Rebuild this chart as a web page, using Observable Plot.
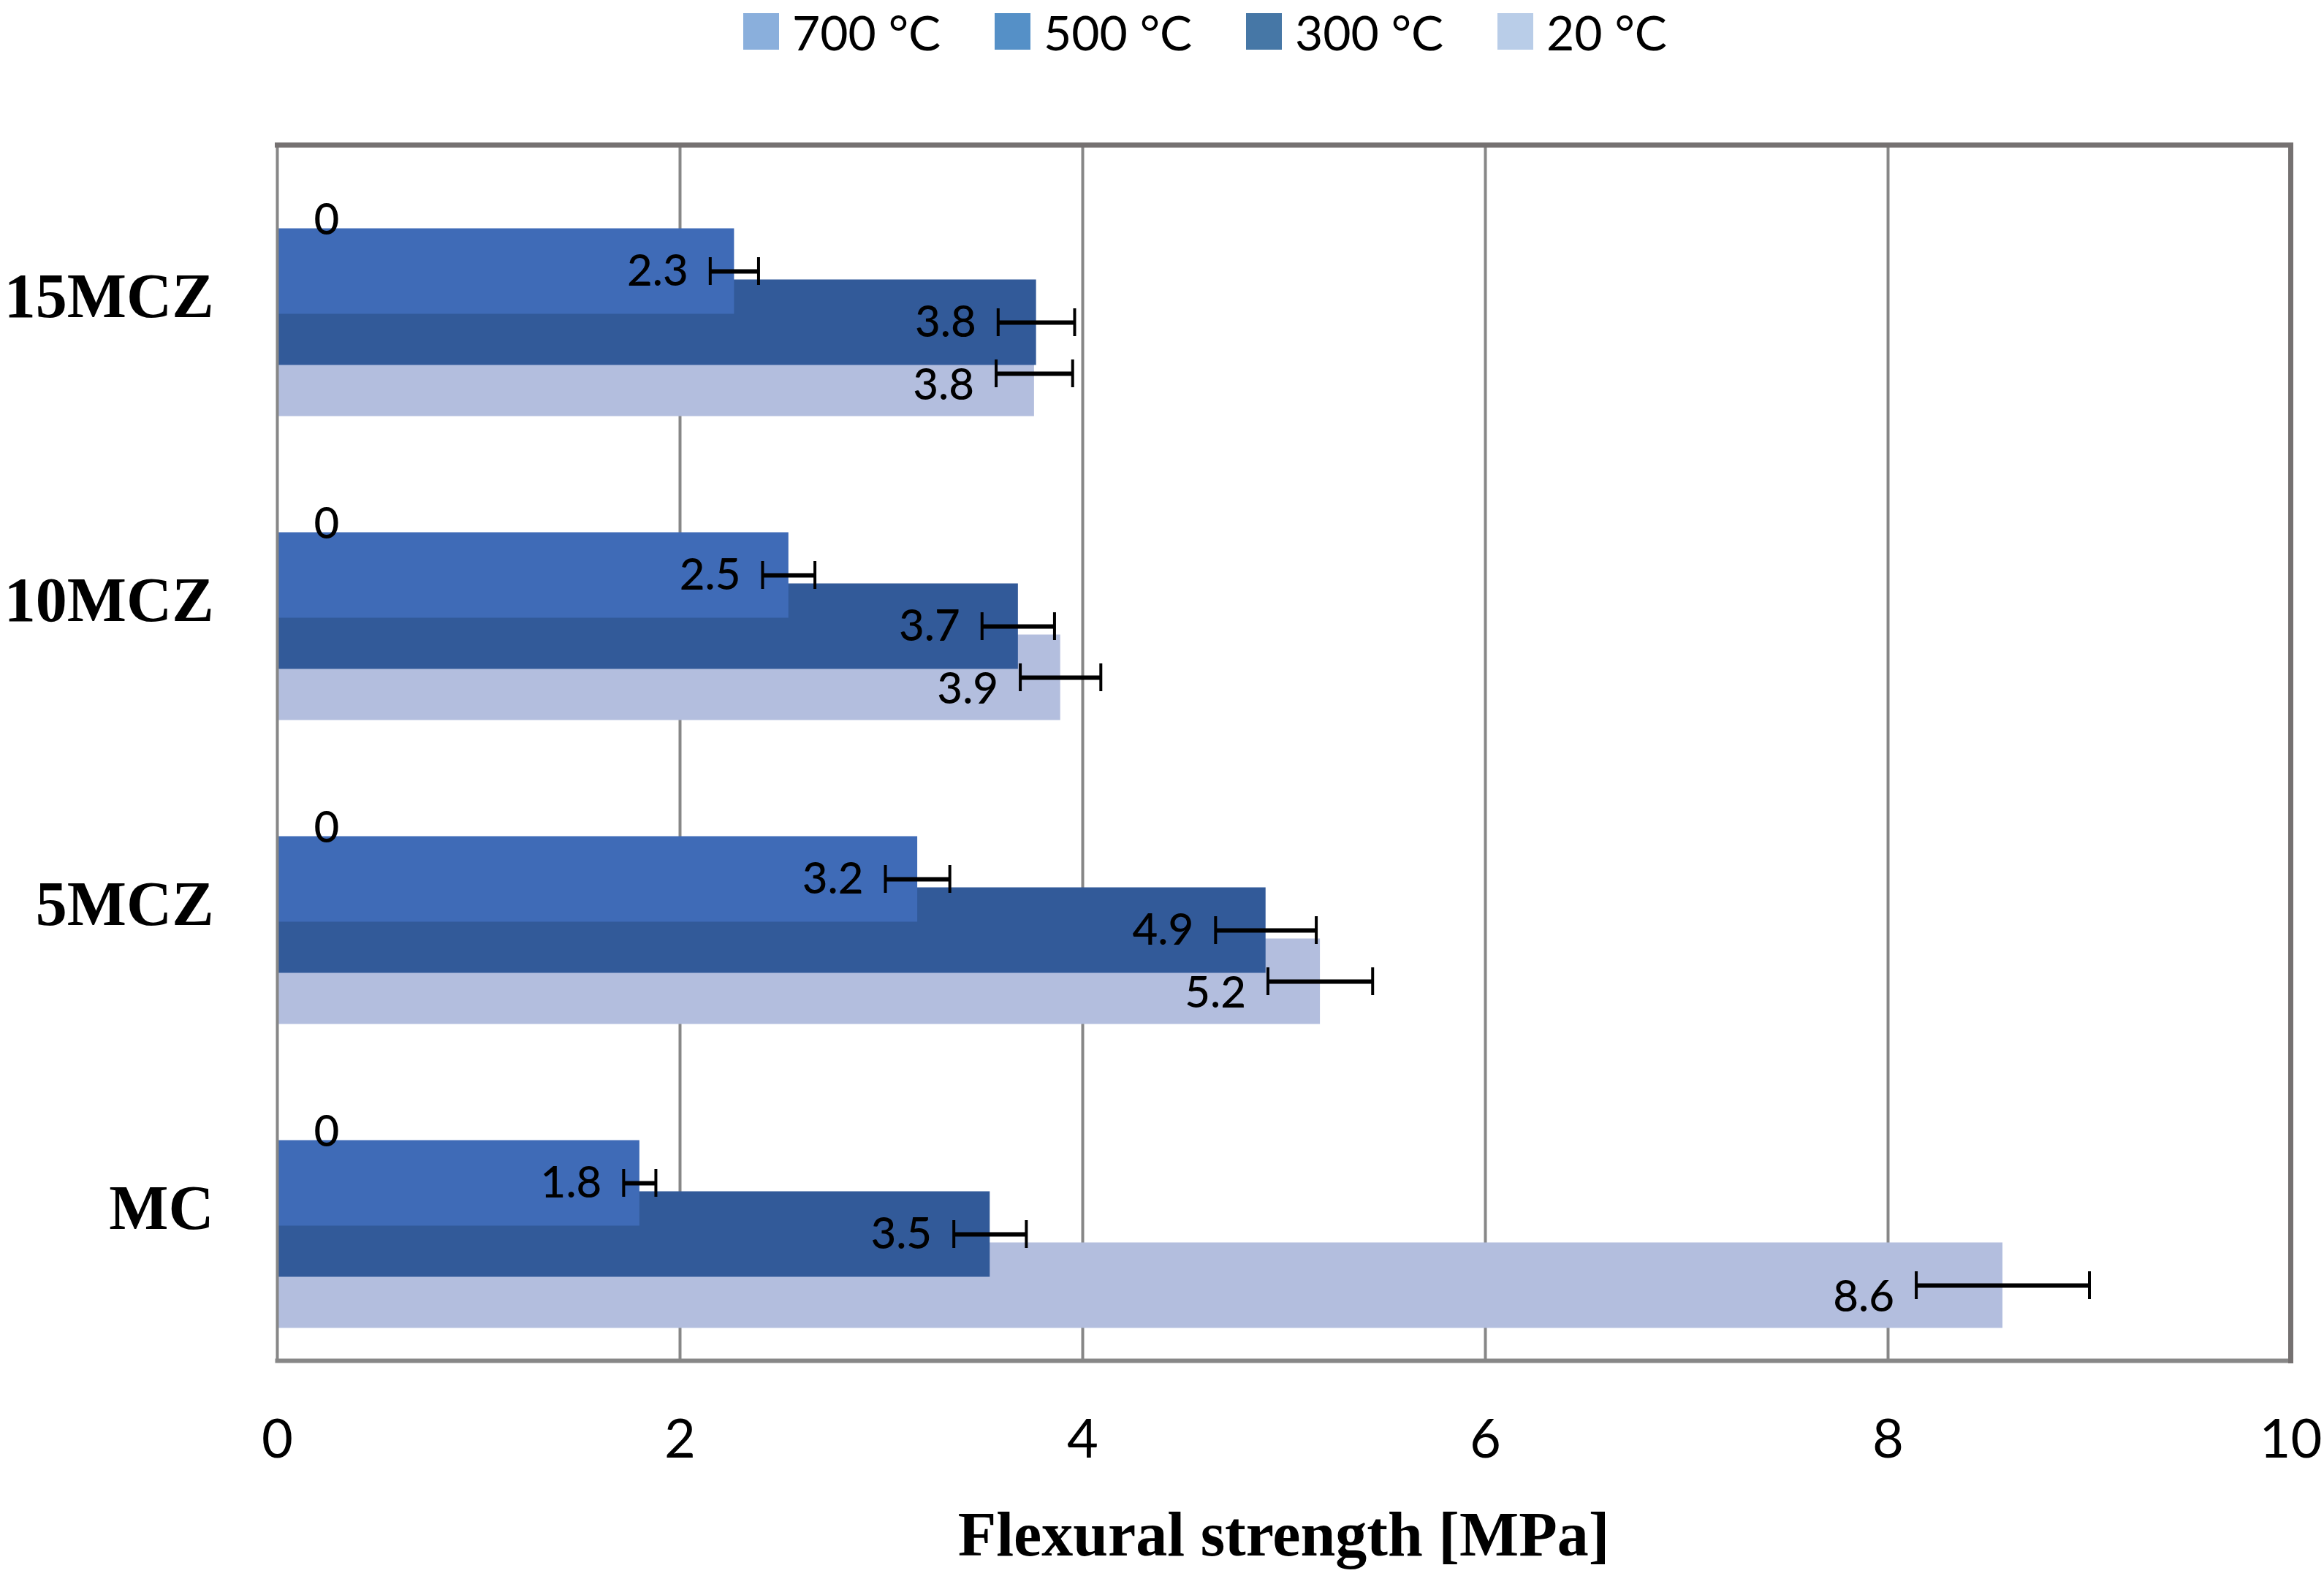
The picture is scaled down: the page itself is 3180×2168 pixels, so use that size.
<!DOCTYPE html>
<html>
<head>
<meta charset="utf-8">
<script src="https://cdn.jsdelivr.net/npm/d3@7"></script>
<script src="https://cdn.jsdelivr.net/npm/@observablehq/plot@0.6"></script>
<style>
html, body { margin: 0; padding: 0; background: #fff; }
#wrap { position: relative; width: 3180px; height: 2168px; overflow: hidden; background: #fff; }
#legend { position: absolute; left: 0; top: 0; width: 3180px; height: 100px; }
.item { position: absolute; top: 0; height: 86px; display: flex; align-items: center;
        font-family: Lato, "Open Sans", sans-serif; font-size: 66px; color: #000; white-space: nowrap; }
.sw { width: 49px; height: 50px; margin-right: 18px; }
#chart { position: absolute; left: 0; top: 100px; }
#xtitle { position: absolute; left: 379px; width: 2755px; top: 2057px; text-align: center;
          font-family: "Liberation Serif", serif; font-weight: bold; font-size: 86px; line-height: 86px; color: #000; }
g[aria-label="fy-axis tick label"] text { font-family: "Liberation Serif", serif; font-weight: bold; }
</style>
</head>
<body>
<div id="wrap">
  <div id="legend"></div>
  <div id="chart"></div>
  <div id="xtitle"></div>
</div>
<script>
// ---- data ----
const groups = ["15MCZ", "10MCZ", "5MCZ", "MC"];
const seriesNames = ["700 °C", "500 °C", "300 °C", "20 °C"];
const values700 = [0, 0, 0, 0];
const values500 = [2.27, 2.54, 3.18, 1.80];
const values300 = [3.77, 3.68, 4.91, 3.54];
const values20  = [3.76, 3.89, 5.18, 8.57];
const err700 = [0, 0, 0, 0];
const err500 = [0.12, 0.13, 0.16, 0.08];
const err300 = [0.19, 0.18, 0.25, 0.18];
const err20  = [0.19, 0.20, 0.26, 0.43];
const xTicks = [0, 2, 4, 6, 8, 10];
const xTitle = "Flexural strength [MPa]";

// ---- styles ----
const barColors = ["#8aafdc", "#3f6bb7", "#325a99", "#b3bede"];
const legendColors = ["#8aafdc", "#5590c7", "#4677a6", "#b9cde8"];

const seriesValues = [values700, values500, values300, values20];
const seriesErrs = [err700, err500, err300, err20];

const table = [];
groups.forEach((g, i) => {
  seriesNames.forEach((s, j) => {
    table.push({group: g, series: s, si: j, value: seriesValues[j][i], err: seriesErrs[j][i]});
  });
});
// draw lower series first so upper bars overlap them
const drawOrder = table.slice().sort((a, b) => b.si - a.si);
const errData = table.filter(d => d.err > 0);
const lastSeries = seriesNames[seriesNames.length - 1];

// legend
const legend = document.getElementById("legend");
seriesNames.forEach((s, j) => {
  const it = document.createElement("div");
  it.className = "item";
  it.style.left = (1017 + j * 344) + "px";
  const sw = document.createElement("div");
  sw.className = "sw";
  sw.style.background = legendColors[j];
  const tx = document.createElement("span");
  tx.textContent = s;
  it.appendChild(sw); it.appendChild(tx);
  legend.appendChild(it);
});

document.getElementById("xtitle").textContent = xTitle;

const plot = Plot.plot({
  width: 3180,
  height: 1922,
  marginTop: 97,
  marginBottom: 160,
  marginLeft: 379,
  marginRight: 46,
  style: {fontFamily: "Lato, 'Open Sans', sans-serif", background: "white", color: "#000"},
  x: {domain: [0, 10]},
  y: {domain: seriesNames, paddingInner: 0, paddingOuter: 0.93, axis: null},
  fy: {domain: groups, padding: 0, label: null},
  color: {domain: seriesNames, range: barColors},
  marks: [
    Plot.ruleX(xTicks.slice(1, -1), {stroke: "#878787", strokeWidth: 4}),
    Plot.barX(drawOrder, {x: "value", y: "series", fy: "group", fill: "series",
      insetTop: -23.5, insetBottom: -23.5}),
    Plot.ruleY(errData, {y: "series", fy: "group", x1: d => d.value - d.err, x2: d => d.value + d.err,
      stroke: "#000", strokeWidth: 6}),
    Plot.tickX(errData, {y: "series", fy: "group", x: d => d.value - d.err,
      stroke: "#000", strokeWidth: 4, insetTop: 16, insetBottom: 16}),
    Plot.tickX(errData, {y: "series", fy: "group", x: d => d.value + d.err,
      stroke: "#000", strokeWidth: 4, insetTop: 16, insetBottom: 16}),
    Plot.text(table.filter(d => d.value > 0 && d.series !== lastSeries), {
      y: "series", fy: "group", x: d => d.value - d.err, text: d => d.value.toFixed(1),
      textAnchor: "end", dx: -30, fontSize: 60, fontWeight: 500, fill: "#000"}),
    Plot.text(table.filter(d => d.value > 0 && d.series === lastSeries), {
      y: "series", fy: "group", x: d => d.value - d.err, text: d => d.value.toFixed(1),
      textAnchor: "end", dx: -30, dy: 16, fontSize: 60, fontWeight: 500, fill: "#000"}),
    Plot.text(table.filter(d => d.value === 0), {
      y: "series", fy: "group", x: "value", text: d => String(d.value),
      textAnchor: "start", dx: 50, fontSize: 60, fontWeight: 500, fill: "#000"}),
    Plot.frame({facet: "super", stroke: "#878787", strokeWidth: 4}),
    Plot.frame({facet: "super", anchor: "bottom", stroke: "#878787", strokeWidth: 6}),
    Plot.frame({facet: "super", anchor: "top", stroke: "#757171", strokeWidth: 7}),
    Plot.frame({facet: "super", anchor: "right", stroke: "#757171", strokeWidth: 7}),
    Plot.axisX({anchor: "bottom", ticks: xTicks, tickSize: 0, tickPadding: 80, fontSize: 74,
      label: null, tickFormat: d => String(d)}),
    Plot.axisFy({anchor: "left", tickSize: 0, tickPadding: 87, fontSize: 86, fontWeight: "bold",
      fontFamily: "Liberation Serif", label: null})
  ]
});
document.getElementById("chart").appendChild(plot);
</script>
</body>
</html>
